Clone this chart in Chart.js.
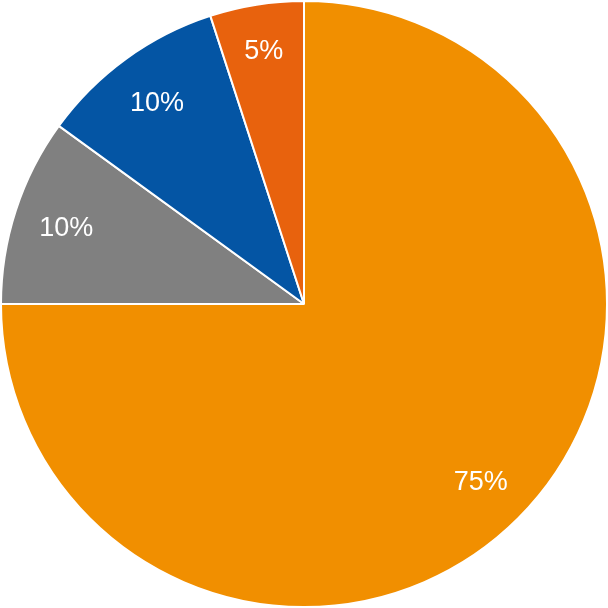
<!DOCTYPE html>
<html>
<head>
<meta charset="utf-8">
<script src="https://cdn.jsdelivr.net/npm/chart.js@4/dist/chart.umd.min.js"></script>
<style>
  html, body { margin: 0; padding: 0; background: #fff; }
  #wrap { width: 608px; height: 608px; }
</style>
</head>
<body>
<div id="wrap"><canvas id="pieChart" width="608" height="608"></canvas></div>
<script>
const labels = ['A', 'B', 'C', 'D'];
const values = [75, 10, 10, 5];
const colors = ['#F18F00', '#808080', '#0455A4', '#E8620D'];

// white percentage labels placed inside each slice
const sliceLabels = {
  id: 'sliceLabels',
  afterDatasetsDraw(chart) {
    const ctx = chart.ctx;
    const meta = chart.getDatasetMeta(0);
    const total = values.reduce((a, b) => a + b, 0);
    ctx.save();
    ctx.fillStyle = '#fff';
    ctx.font = '27px "Liberation Sans", Arial, sans-serif';
    ctx.textAlign = 'center';
    ctx.textBaseline = 'middle';
    meta.data.forEach((arc, i) => {
      const mid = (arc.startAngle + arc.endAngle) / 2;
      const r = arc.outerRadius * (values[i] < 8 ? 0.85 : 0.825);
      const x = arc.x + Math.cos(mid) * r;
      const y = arc.y + Math.sin(mid) * r;
      ctx.fillText(Math.round(values[i] / total * 100) + '%', x, y + 2);
    });
    ctx.restore();
  }
};

new Chart(document.getElementById('pieChart'), {
  type: 'pie',
  data: {
    labels: labels,
    datasets: [{
      data: values,
      backgroundColor: colors,
      borderColor: '#fff',
      borderWidth: 2
    }]
  },
  options: {
    responsive: false,
    animation: false,
    layout: { padding: 0 },
    plugins: {
      legend: { display: false },
      tooltip: { enabled: false }
    }
  },
  plugins: [sliceLabels]
});
</script>
</body>
</html>
